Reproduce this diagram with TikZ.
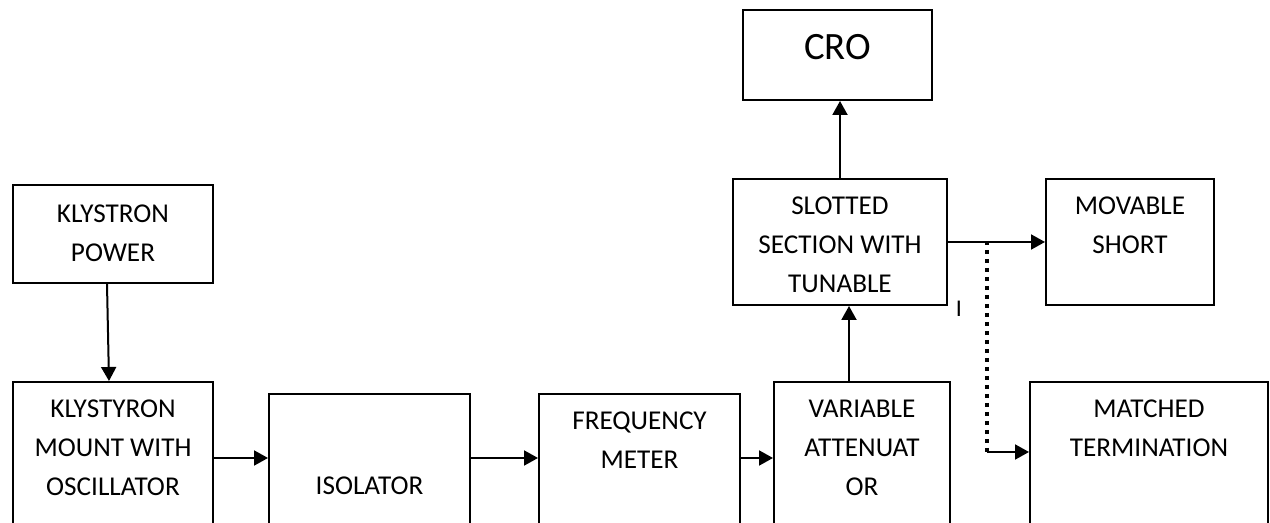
\documentclass[tikz,border=0pt]{standalone}
\usepackage{fontspec}
\setmainfont{Carlito}
\usetikzlibrary{arrows.meta}

\begin{document}
\begin{tikzpicture}[x=0.5pt, y=-0.5pt, >={Triangle[length=7pt, width=7.5pt]},
        blk/.style={draw, line width=1pt, anchor=north west, inner sep=0pt},
        lbl/.style={anchor=north, inner sep=0pt, align=center, font=\fontsize{13.6}{19.5}\selectfont},
        wire/.style={->, line width=1pt},
        dotwire/.style={line width=2pt, dash pattern=on 2pt off 2.5pt}]

        % Cornice (le scatole in basso escono dal foglio)
        \useasboundingbox (0,0) rectangle (1270,523);
        \clip (0,0) rectangle (1270,523);

        % Blocchi
        \node[blk, minimum width=100pt, minimum height=49pt] (pwr) at (12,184) {};
        \node[blk, minimum width=100pt, minimum height=120pt] (mount) at (12,381) {};
        \node[blk, minimum width=100.5pt, minimum height=120pt] (iso) at (268,393) {};
        \node[blk, minimum width=100.5pt, minimum height=120pt] (freq) at (538,393) {};
        \node[blk, minimum width=88pt, minimum height=120pt] (att) at (773,381) {};
        \node[blk, minimum width=119pt, minimum height=120pt] (load) at (1029,381) {};
        \node[blk, minimum width=107pt, minimum height=63pt] (slot) at (732,178) {};
        \node[blk, minimum width=84pt, minimum height=63pt] (short) at (1045,178) {};
        \node[blk, minimum width=94.5pt, minimum height=45pt] (cro) at (742,9) {};

        % Testi
        \node[lbl] (pwr-t) at ([yshift=-10.1pt]pwr.north) {KLYSTRON\\POWER};
        \node[lbl] (mount-t) at ([yshift=-9.1pt]mount.north) {KLYSTYRON\\MOUNT WITH\\OSCILLATOR};
        \node[lbl] (iso-t) at ([yshift=-41.6pt]iso.north) {ISOLATOR};
        \node[lbl] (freq-t) at ([yshift=-9.1pt]freq.north) {FREQUENCY\\METER};
        \node[lbl] (att-t) at ([yshift=-9.1pt]att.north) {VARIABLE\\ATTENUAT\\OR};
        \node[lbl] (load-t) at ([yshift=-9.1pt]load.north) {MATCHED\\TERMINATION};
        \node[lbl] (slot-t) at ([yshift=-9.1pt]slot.north) {SLOTTED\\SECTION WITH\\TUNABLE};
        \node[lbl] (short-t) at ([yshift=-9.1pt]short.north) {MOVABLE\\SHORT};
        \node[inner sep=0pt, font=\fontsize{19.35}{23}\selectfont] (cro-t) at ([yshift=-19pt]cro.north) {CRO};
        \node[inner sep=0pt, font=\fontsize{12}{14}\selectfont] (mark) at (959,309) {I};

        % Collegamenti
        \coordinate (rail) at (0,458);
        \draw[wire] ([xshift=-3pt]pwr.south) -- ([xshift=-2pt]mount.north);
        \draw[wire] (mount.east |- rail) -- (iso.west |- rail);
        \draw[wire] (iso.east |- rail) -- (freq.west |- rail);
        \draw[wire] (freq.east |- rail) -- (att.west |- rail);
        \draw[wire] ([xshift=-6.5pt]att.north) -- ([xshift=-6.5pt]att.north |- slot.south);
        \draw[wire] (slot.north) -- (slot.north |- cro.south);
        \draw[wire] (slot.east) -- (short.west);

        % Ramo tratteggiato verso il carico
        \coordinate (tap) at (987,241);
        \coordinate (bend) at (987,452);
        \draw[dotwire] (tap) -- (bend);
        \draw[wire] (bend) -- (load.west |- bend);

    \end{tikzpicture}
\end{document}
